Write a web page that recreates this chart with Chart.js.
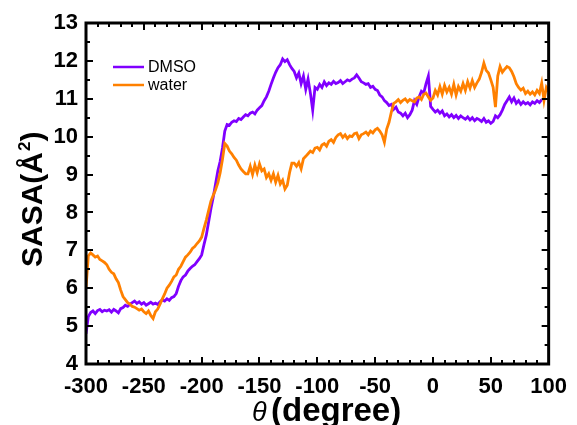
<!DOCTYPE html>
<html lang="en">
<head>
    <meta charset="UTF-8">
    <title>SASA vs theta</title>
    <script src="https://cdn.jsdelivr.net/npm/chart.js@4.4.1/dist/chart.umd.min.js"></script>
    <style>
        html, body { margin: 0; padding: 0; background: #fff; }
        canvas { display: block; }
    </style>
</head>
<body>
    <canvas id="sasaChart" width="577" height="425"></canvas>

    <script>
        // theta (degree), sampled every 2 degrees
        const theta = [
            -300, -298, -296, -294, -292, -290, -288, -286, -284, -282,
            -280, -278, -276, -274, -272, -270, -268, -266, -264, -262,
            -260, -258, -256, -254, -252, -250, -248, -246, -244, -242,
            -240, -238, -236, -234, -232, -230, -228, -226, -224, -222,
            -220, -218, -216, -214, -212, -210, -208, -206, -204, -202,
            -200, -198, -196, -194, -192, -190, -188, -186, -184, -182,
            -180, -178, -176, -174, -172, -170, -168, -166, -164, -162,
            -160, -158, -156, -154, -152, -150, -148, -146, -144, -142,
            -140, -138, -136, -134, -132, -130, -128, -126, -124, -122,
            -120, -118, -116, -114, -112, -110, -108, -106, -104, -102,
            -100, -98, -96, -94, -92, -90, -88, -86, -84, -82,
            -80, -78, -76, -74, -72, -70, -68, -66, -64, -62,
            -60, -58, -56, -54, -52, -50, -48, -46, -44, -42,
            -40, -38, -36, -34, -32, -30, -28, -26, -24, -22,
            -20, -18, -16, -14, -12, -10, -8, -6, -4, -2,
            0, 2, 4, 6, 8, 10, 12, 14, 16, 18,
            20, 22, 24, 26, 28, 30, 32, 34, 36, 38,
            40, 42, 44, 46, 48, 50, 52, 54, 56, 58,
            60, 62, 64, 66, 68, 70, 72, 74, 76, 78,
            80, 82, 84, 86, 88, 90, 92, 94, 96, 98,
            100
        ];

        // SASA in DMSO
        const dmso = [
            4.80, 5.25, 5.36, 5.40, 5.33, 5.41, 5.44, 5.38, 5.42, 5.40,
            5.43, 5.37, 5.44, 5.40, 5.35, 5.46, 5.49, 5.55, 5.52, 5.58,
            5.62, 5.66, 5.60, 5.64, 5.58, 5.62, 5.55, 5.59, 5.63, 5.58,
            5.61, 5.57, 5.64, 5.69, 5.66, 5.72, 5.68, 5.75, 5.78, 5.86,
            6.05, 6.20, 6.30, 6.35, 6.45, 6.52, 6.58, 6.62, 6.70, 6.78,
            6.88, 7.15, 7.40, 7.75, 8.10, 8.40, 8.75, 9.10, 9.35, 9.70,
            10.15, 10.32, 10.30, 10.38, 10.42, 10.40, 10.48, 10.45, 10.52, 10.58,
            10.55, 10.62, 10.65, 10.60, 10.70, 10.76, 10.82, 10.95, 11.05, 11.20,
            11.38, 11.55, 11.70, 11.82, 11.90, 12.05, 11.98, 12.03, 11.90, 11.80,
            11.72, 11.55, 11.68, 11.40, 11.60, 11.25, 11.52, 11.15, 10.70, 11.30,
            11.25, 11.38, 11.30, 11.45, 11.35, 11.42, 11.38, 11.46, 11.40, 11.43,
            11.48, 11.40, 11.45, 11.50, 11.47, 11.52, 11.55, 11.63, 11.55, 11.45,
            11.42, 11.38, 11.40, 11.30, 11.33, 11.25, 11.22, 11.10, 11.05, 10.95,
            10.90, 10.82, 10.85, 10.72, 10.78, 10.65, 10.62, 10.55, 10.62, 10.50,
            10.58, 10.70, 10.95, 10.85, 11.05, 11.20, 11.15, 11.40, 11.60, 10.80,
            10.72, 10.65, 10.70, 10.62, 10.68, 10.55, 10.60, 10.52, 10.58, 10.50,
            10.56, 10.48, 10.55, 10.50, 10.46, 10.52, 10.44, 10.50, 10.42, 10.48,
            10.45, 10.40, 10.48, 10.38, 10.42, 10.35, 10.40, 10.55, 10.50, 10.58,
            10.70, 10.85, 10.95, 11.05, 10.92, 11.02, 10.88, 10.95, 10.85, 10.92,
            10.86, 10.90, 10.84, 10.92, 10.88, 10.95, 10.90, 10.98, null, null,
            null
        ];

        // SASA in water
        const water = [
            6.00, 6.85, 6.93, 6.88, 6.82, 6.85, 6.76, 6.72, 6.68, 6.62,
            6.50, 6.42, 6.38, 6.25, 6.15, 5.95, 5.78, 5.70, 5.62, 5.58,
            5.52, 5.50, 5.46, 5.42, 5.45, 5.38, 5.33, 5.40, 5.28, 5.20,
            5.38, 5.45, 5.58, 5.72, 5.85, 6.00, 6.08, 6.18, 6.30, 6.35,
            6.50, 6.58, 6.70, 6.82, 6.88, 6.95, 7.05, 7.10, 7.18, 7.25,
            7.35, 7.58, 7.80, 8.05, 8.30, 8.45, 8.60, 8.78, 9.05, 9.40,
            9.82, 9.75, 9.62, 9.55, 9.45, 9.38, 9.25, 9.15, 9.08, 9.02,
            9.02, 9.22, 9.00, 9.25, 9.05, 9.28, 9.10, 9.15, 8.92, 9.02,
            8.85, 9.02, 8.80, 8.98, 8.75, 8.85, 8.62, 8.72, 9.05, 9.30,
            9.30, 9.22, 9.32, 9.15, 9.42, 9.48, 9.55, 9.62, 9.58, 9.70,
            9.72, 9.65, 9.78, 9.82, 9.75, 9.88, 9.92, 9.85, 9.98, 10.05,
            10.08, 9.98, 10.05, 9.95, 10.02, 10.00, 10.08, 10.10, 9.95, 10.05,
            10.08, 10.12, 10.05, 10.15, 10.10, 10.18, 10.22, 10.15, 10.05, 9.85,
            10.20, 10.38, 10.65, 10.88, 10.92, 10.98, 10.90, 10.96, 11.00, 10.92,
            10.98, 10.95, 10.92, 11.02, 11.05, 10.98, 11.12, 11.15, 11.05, 10.96,
            11.02, 11.22, 11.10, 11.32, 11.12, 11.35, 11.18, 11.30, 11.12, 11.38,
            11.10, 11.32, 11.20, 11.40, 11.22, 11.45, 11.28, 11.48, 11.30, 11.42,
            11.52, 11.70, 11.94, 11.75, 11.68, 11.50, 11.30, 10.78, 11.60, 11.85,
            11.70, 11.78, 11.85, 11.82, 11.72, 11.58, 11.40, 11.30, 11.23, 11.28,
            11.14, 11.20, 11.12, 11.18, 11.10, 11.22, 11.14, 11.41, 10.96, 11.30,
            11.20
        ];

        const xTicks = { min: -300, max: 100, major: 50, minor: 10 };
        const yTicks = { min: 4, max: 13, major: 1, minor: 0.5 };

        const FONT = "'Liberation Sans', Arial, sans-serif";
        const PURPLE = '#8000ff';
        const ORANGE = '#ff8000';

        const toPoints = (ys) => theta.map((t, i) => ({ x: t, y: ys[i] }));

        // frame, inward ticks, legend and axis titles
        const decorations = {
            id: 'decorations',
            afterDraw(chart) {
                const { ctx, chartArea: a, scales } = chart;
                const x = scales.x, y = scales.y;
                ctx.save();
                ctx.strokeStyle = '#000';
                ctx.lineCap = 'butt';

                // ticks
                ctx.lineWidth = 2;
                for (let v = xTicks.min; v <= xTicks.max + 1e-9; v += xTicks.minor) {
                    const px = Math.round(x.getPixelForValue(v));
                    const len = (Math.abs(v % xTicks.major) < 1e-9) ? 7 : 4;
                    ctx.beginPath();
                    ctx.moveTo(px, a.bottom); ctx.lineTo(px, a.bottom - len);
                    ctx.moveTo(px, a.top); ctx.lineTo(px, a.top + len);
                    ctx.stroke();
                }
                for (let v = yTicks.min; v <= yTicks.max + 1e-9; v += yTicks.minor) {
                    const py = Math.round(y.getPixelForValue(v));
                    const len = (Math.abs(v - Math.round(v)) < 1e-9) ? 7 : 4;
                    ctx.beginPath();
                    ctx.moveTo(a.left, py); ctx.lineTo(a.left + len, py);
                    ctx.moveTo(a.right, py); ctx.lineTo(a.right - len, py);
                    ctx.stroke();
                }

                // frame
                ctx.lineWidth = 3;
                ctx.strokeRect(a.left, a.top, a.right - a.left, a.bottom - a.top);

                // legend
                const legend = [['DMSO', PURPLE, 67], ['water', ORANGE, 85]];
                ctx.font = '16px ' + FONT;
                ctx.textBaseline = 'middle';
                ctx.textAlign = 'left';
                legend.forEach(([label, color, ly]) => {
                    ctx.strokeStyle = color;
                    ctx.lineWidth = 2.5;
                    ctx.beginPath();
                    ctx.moveTo(113, ly); ctx.lineTo(144, ly);
                    ctx.stroke();
                    ctx.fillStyle = '#000';
                    ctx.fillText(label, 148, ly + 1);
                });

                // y title: SASA(Å²)
                ctx.fillStyle = '#000';
                ctx.textBaseline = 'alphabetic';
                ctx.translate(42, 267);
                ctx.rotate(-Math.PI / 2);
                ctx.font = 'bold 30px ' + FONT;
                let pos = 0;
                ctx.fillText('SASA(Å', pos, 0);
                pos += ctx.measureText('SASA(Å').width + 1;
                ctx.font = 'bold 17px ' + FONT;
                ctx.fillText('2', pos, -12);
                pos += ctx.measureText('2').width;
                ctx.font = 'bold 30px ' + FONT;
                ctx.fillText(')', pos, 0);
                ctx.restore();

                // x title: θ (degree)
                ctx.save();
                ctx.fillStyle = '#000';
                ctx.textBaseline = 'alphabetic';
                ctx.textAlign = 'left';
                ctx.font = 'italic 27px ' + FONT;
                ctx.fillText('θ', 252, 421);
                ctx.font = 'bold 33px ' + FONT;
                ctx.fillText('(degree)', 271, 421);
                ctx.restore();
            }
        };

        new Chart('sasaChart', {
            type: 'line',
            data: {
                datasets: [
                    {
                        label: 'DMSO',
                        data: toPoints(dmso),
                        borderColor: PURPLE,
                        borderWidth: 2.8,
                        order: 1
                    },
                    {
                        label: 'water',
                        data: toPoints(water),
                        borderColor: ORANGE,
                        borderWidth: 2.8,
                        order: 0
                    }
                ]
            },
            options: {
                responsive: false,
                animation: false,
                devicePixelRatio: 1,
                layout: { padding: { top: 23, right: 21, left: 0, bottom: 0 } },
                elements: {
                    line: { tension: 0, fill: false },
                    point: { radius: 0 }
                },
                plugins: {
                    legend: { display: false },
                    tooltip: { enabled: false }
                },
                scales: {
                    x: {
                        type: 'linear',
                        min: xTicks.min,
                        max: xTicks.max,
                        grid: { display: false, drawTicks: false },
                        border: { display: false },
                        ticks: {
                            stepSize: xTicks.major,
                            maxRotation: 0,
                            padding: 10,
                            color: '#000',
                            font: { family: FONT, size: 22, weight: 'bold' }
                        },
                        afterFit(s) { s.height = 61; }
                    },
                    y: {
                        min: yTicks.min,
                        max: yTicks.max,
                        grid: { display: false, drawTicks: false },
                        border: { display: false },
                        ticks: {
                            stepSize: yTicks.major,
                            padding: 8,
                            color: '#000',
                            font: { family: FONT, size: 22, weight: 'bold' }
                        },
                        afterFit(s) { s.width = 86; }
                    }
                }
            },
            plugins: [decorations]
        });
    </script>
</body>
</html>
